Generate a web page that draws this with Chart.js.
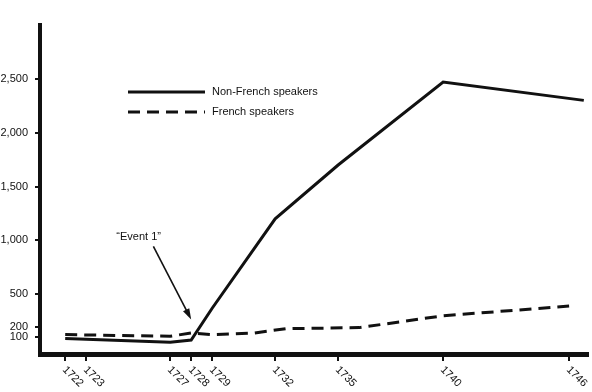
<!DOCTYPE html>
<html>
<head>
<meta charset="utf-8">
<script src="https://cdn.jsdelivr.net/npm/chart.js@4/dist/chart.umd.min.js"></script>
<style>
  html, body { margin: 0; padding: 0; background: #fff; }
  #chart { display: block; }
</style>
</head>
<body>
<canvas id="chart" width="592" height="392"></canvas>
<script>
// Years shown on the x axis and counts on the y axis
const xTickYears = [1722, 1723, 1727, 1728, 1729, 1732, 1735, 1740, 1746];
const yTickValues = [100, 200, 500, 1000, 1500, 2000, 2500];

// Non-French speakers (solid line)
const nonFrenchYears = [1722, 1727, 1728, 1729, 1732, 1735, 1740, 1746.7];
const nonFrenchValues = [90, 55, 75, 370, 1200, 1700, 2470, 2300];

// French speakers (dashed line)
const frenchYears = [1722, 1727, 1728, 1729, 1731, 1732.5, 1736, 1740, 1746];
const frenchValues = [125, 110, 140, 125, 140, 180, 190, 300, 390];

// "Event 1" note: label position and arrow from/to (year, value)
const eventLabel = '\u201CEvent 1\u201D';
const eventTextAt = [1725.5, 1030];
const eventArrowFrom = [1726.2, 945];
const eventArrowTo = [1728, 265];

const INK = '#111';
const FONT = '"Liberation Sans", Arial, Helvetica, sans-serif';

const toPoints = (xs, ys) => xs.map((x, i) => ({ x: x, y: ys[i] }));

// draws the rotated year labels, the legend and the arrow note
const overlay = {
  id: 'overlay',
  afterDraw(chart) {
    const ctx = chart.ctx;
    const xs = chart.scales.x;
    const ys = chart.scales.y;
    ctx.save();
    ctx.fillStyle = INK;
    ctx.strokeStyle = INK;

    // x labels, slanted down to the right
    ctx.font = '11px ' + FONT;
    ctx.textAlign = 'left';
    ctx.textBaseline = 'middle';
    xTickYears.forEach(yr => {
      const px = xs.getPixelForValue(yr);
      ctx.save();
      ctx.translate(px - 1, 368);
      ctx.rotate(Math.PI / 4);
      ctx.fillText(String(yr), 0, 0);
      ctx.restore();
    });

    // legend
    const ds = chart.data.datasets;
    const rows = [92, 112];
    ds.forEach((d, i) => {
      ctx.save();
      ctx.lineWidth = 3;
      ctx.setLineDash(d.borderDash || []);
      ctx.beginPath();
      ctx.moveTo(128, rows[i]);
      ctx.lineTo(205, rows[i]);
      ctx.stroke();
      ctx.restore();
      ctx.font = '11px ' + FONT;
      ctx.textBaseline = 'middle';
      ctx.fillText(d.label, 212, rows[i]);
    });

    // event note
    ctx.textAlign = 'center';
    ctx.fillText(eventLabel, xs.getPixelForValue(eventTextAt[0]), ys.getPixelForValue(eventTextAt[1]));
    const x1 = xs.getPixelForValue(eventArrowFrom[0]);
    const y1 = ys.getPixelForValue(eventArrowFrom[1]);
    const x2 = xs.getPixelForValue(eventArrowTo[0]);
    const y2 = ys.getPixelForValue(eventArrowTo[1]);
    const ang = Math.atan2(y2 - y1, x2 - x1);
    ctx.lineWidth = 1.6;
    ctx.beginPath();
    ctx.moveTo(x1, y1);
    ctx.lineTo(x2 - 8 * Math.cos(ang), y2 - 8 * Math.sin(ang));
    ctx.stroke();
    ctx.beginPath();
    ctx.moveTo(x2, y2);
    ctx.lineTo(x2 - 11 * Math.cos(ang) + 3.5 * Math.sin(ang), y2 - 11 * Math.sin(ang) - 3.5 * Math.cos(ang));
    ctx.lineTo(x2 - 11 * Math.cos(ang) - 3.5 * Math.sin(ang), y2 - 11 * Math.sin(ang) + 3.5 * Math.cos(ang));
    ctx.closePath();
    ctx.fill();
    ctx.restore();
  }
};

new Chart(document.getElementById('chart'), {
  type: 'line',
  data: {
    datasets: [
      {
        label: 'Non-French speakers',
        data: toPoints(nonFrenchYears, nonFrenchValues),
        borderColor: INK,
        borderWidth: 3,
        pointRadius: 0,
        tension: 0,
        fill: false
      },
      {
        label: 'French speakers',
        data: toPoints(frenchYears, frenchValues),
        borderColor: INK,
        borderWidth: 3,
        borderDash: [12, 7],
        pointRadius: 0,
        tension: 0,
        fill: false
      }
    ]
  },
  options: {
    responsive: false,
    animation: false,
    devicePixelRatio: 1,
    layout: { padding: { top: 25, right: 4, left: 0, bottom: 0 } },
    plugins: {
      legend: { display: false },
      tooltip: { enabled: false }
    },
    scales: {
      x: {
        type: 'linear',
        min: 1720.8,
        max: 1746.9,
        grid: { drawOnChartArea: false, drawTicks: true, tickLength: 7, lineWidth: 2, color: INK },
        border: { width: 5, color: INK },
        ticks: { display: false },
        afterBuildTicks: s => { s.ticks = xTickYears.map(v => ({ value: v })); },
        afterFit: s => { s.height = 38; }
      },
      y: {
        min: -55,
        max: 3000,
        grid: { drawOnChartArea: false, drawTicks: true, tickLength: 5, lineWidth: 2, color: INK },
        border: { width: 4, color: INK },
        ticks: {
          padding: 7,
          color: INK,
          font: { family: FONT, size: 11 },
          callback: v => v.toLocaleString('en-US')
        },
        afterBuildTicks: s => { s.ticks = yTickValues.map(v => ({ value: v })); },
        afterFit: s => { s.width = 40; }
      }
    }
  },
  plugins: [overlay]
});
</script>
</body>
</html>
